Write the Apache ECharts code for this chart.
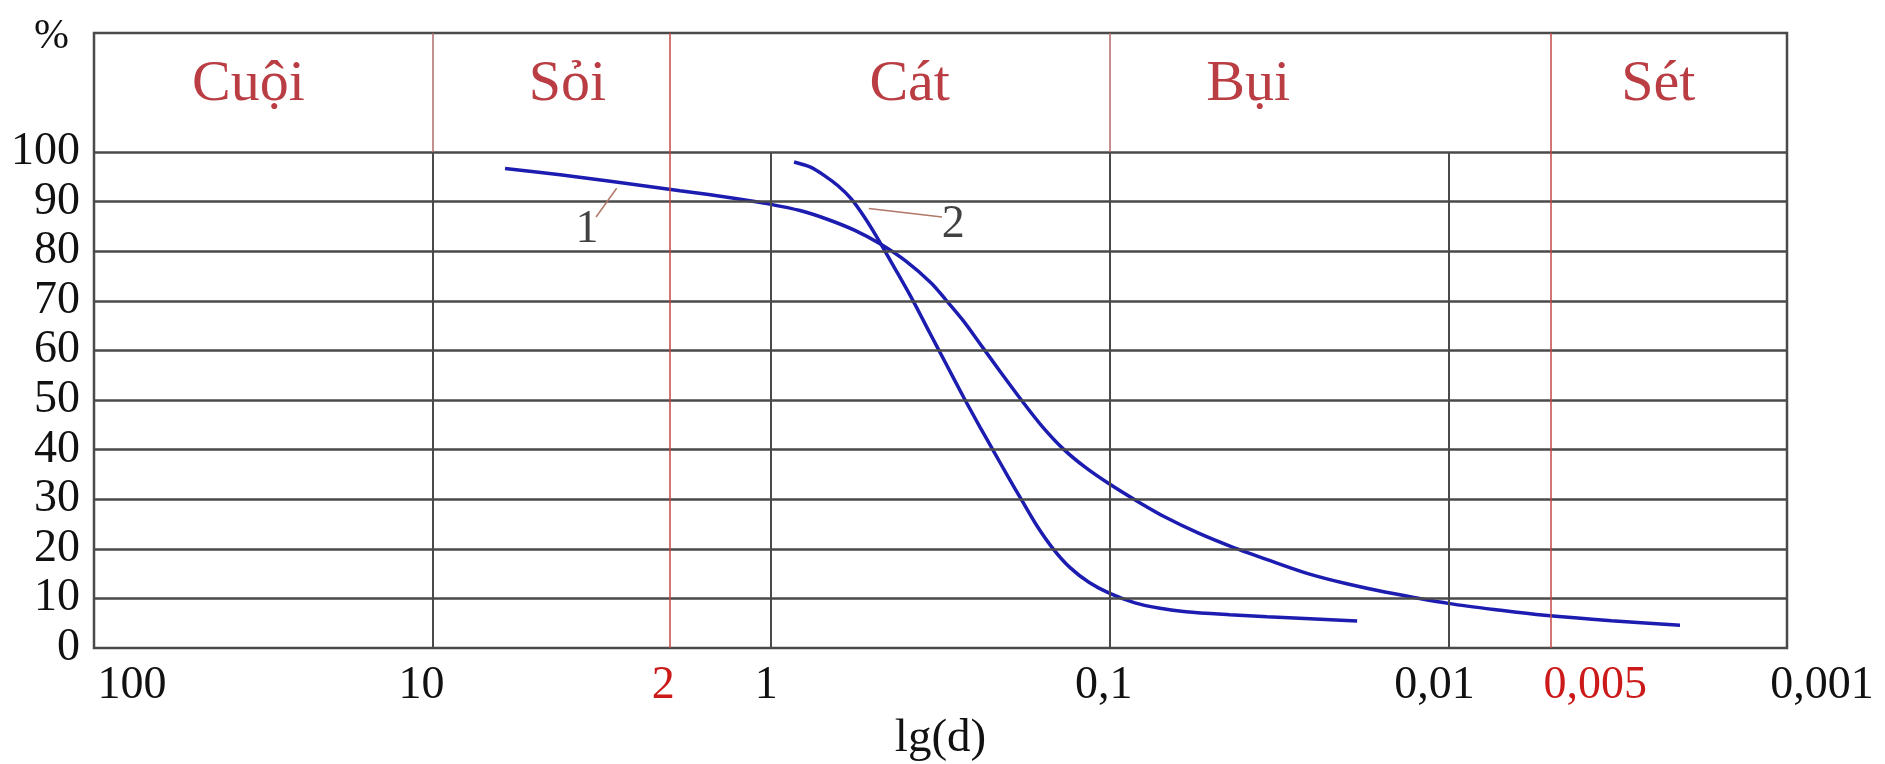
<!DOCTYPE html>
<html>
<head>
<meta charset="utf-8">
<script src="https://cdn.jsdelivr.net/npm/echarts@6/dist/echarts.min.js"></script>
<style>
  html, body { margin: 0; padding: 0; background: #fff; }
  #chart { width: 1885px; height: 764px; }
</style>
</head>
<body>
<div id="chart"></div>
<script>
// Grain-size distribution curves: cumulative percent finer vs particle diameter d (mm)
const sizeTicks = [100, 10, 2, 1, 0.1, 0.01, 0.005, 0.001];
const sizeTickLabels = ['100', '10', '2', '1', '0,1', '0,01', '0,005', '0,001'];
const gridSizes = [10, 1, 0.1, 0.01];
const fractionBounds = [100, 10, 2, 0.1, 0.005, 0.001];
const fractionNames = ['Cuội', 'Sỏi', 'Cát', 'Bụi', 'Sét'];
const pctTicks = [0, 10, 20, 30, 40, 50, 60, 70, 80, 90, 100];

// curve 1: well-graded soil
const curve1Size = [6.11, 4.2, 2.91, 1.86, 1.26, 1.01, 0.822, 0.68, 0.566, 0.477, 0.4, 0.337, 0.305, 0.271,
                    0.242, 0.21, 0.182, 0.158, 0.137, 0.118, 0.101, 0.083, 0.0687, 0.0549, 0.0436, 0.0336,
                    0.026, 0.0201, 0.0154, 0.0099, 0.0070, 0.0052, 0.0033, 0.00207];
const curve1Pct  = [96.7, 95.4, 94.0, 92.2, 90.6, 89.5, 88.2, 86.4, 84.2, 81.5, 78.0, 73.6, 70.2, 66.0,
                    61.4, 55.6, 49.9, 44.6, 40.1, 36.4, 33.2, 29.6, 26.4, 23.2, 20.4, 17.6,
                    15.0, 13.0, 11.3, 8.95, 7.6, 6.6, 5.5, 4.6];
// curve 2: uniform (poorly graded) soil
const curve2Size = [0.856, 0.768, 0.698, 0.635, 0.581, 0.532, 0.487, 0.431, 0.381, 0.340, 0.303, 0.270,
                    0.242, 0.220, 0.200, 0.182, 0.164, 0.147, 0.131, 0.115, 0.100, 0.0843, 0.0711, 0.0596,
                    0.0442, 0.0343, 0.0256, 0.0186];
const curve2Pct  = [98.0, 97.0, 95.3, 93.2, 90.6, 87.0, 82.8, 76.5, 70.0, 63.5, 57.0, 50.5,
                    44.6, 39.6, 34.6, 29.8, 24.6, 20.0, 16.2, 13.2, 11.0, 9.1, 8.0, 7.3,
                    6.7, 6.3, 5.9, 5.45];
const curveNames = ['1', '2'];

// ---- layout and styling ----
const FONT = '"Liberation Serif", "Times New Roman", serif';
const GRID_COLOR = '#4a4a4a';
const BOUND_RED = '#c24846';
const HEAD_SEP = '#b06a6a';
const TEXT_RED = '#a80c14';
const CURVE_BLUE = '#1c1cb0';
const PCT_TOP = 124;          // top of the fraction-name band
const HEADER_Y = 113.5;       // vertical anchor of the fraction names
const fractionLabelSize = [35, 4.0, 0.39, 0.039, 0.0024];
const labelNudge = [38, -11, -6, -5, -6, -14, 45, 35];
const callouts = [
  { text: '1', at: [3.5, 84.3], from: [2.86, 92.7], to: [3.29, 86.9] },
  { text: '2', at: [0.29, 85.3], from: [0.515, 88.6], to: [0.313, 86.9] }
];

const isRed = d => d === 2 || d === 0.005;

// frame lines: horizontal grid, decade verticals, fraction boundaries
const frameLines = [];
pctTicks.filter(v => v > 0).forEach(v => {
  frameLines.push([{ coord: [100, v], lineStyle: { color: GRID_COLOR, width: 2.5, type: 'solid' } }, { coord: [0.001, v] }]);
});
gridSizes.forEach(d => {
  frameLines.push([{ coord: [d, 0], lineStyle: { color: GRID_COLOR, width: 2, type: 'solid' } }, { coord: [d, 100] }]);
});
fractionBounds.slice(1, -1).forEach(d => {
  const full = !gridSizes.includes(d);
  frameLines.push([{ coord: [d, full ? 0 : 100], lineStyle: { color: full ? BOUND_RED : HEAD_SEP, width: 1.5, type: 'solid' } }, { coord: [d, PCT_TOP] }]);
});

const rich = {};
sizeTicks.forEach((t, i) => {
  const n = labelNudge[i];
  rich['t' + i] = {
    fontFamily: FONT, fontSize: 46,
    color: isRed(t) ? '#cc1a1a' : '#111',
    padding: n >= 0 ? [0, 0, 0, 2 * n] : [0, -2 * n, 0, 0]
  };
});

const chart = echarts.init(document.getElementById('chart'), null, { renderer: 'canvas' });
chart.setOption({
  animation: false,
  backgroundColor: '#fff',
  grid: {
    left: 94, right: 98, top: 33, bottom: 116,
    show: true, borderColor: GRID_COLOR, borderWidth: 2.5,
    outerBoundsMode: 'none'
  },
  xAxis: {
    type: 'log', logBase: 10, min: 0.001, max: 100, inverse: true,
    axisLine: { show: false }, axisTick: { show: false },
    splitLine: { show: false }, minorTick: { show: false }, minorSplitLine: { show: false },
    axisLabel: {
      customValues: sizeTicks,
      hideOverlap: false,
      margin: 15,
      fontFamily: FONT, fontSize: 46, color: '#111',
      formatter: v => {
        const i = sizeTicks.findIndex(t => Math.abs(Math.log10(t) - Math.log10(v)) < 1e-6);
        return i < 0 ? '' : '{t' + i + '|' + sizeTickLabels[i] + '}';
      },
      rich: rich
    },
    name: 'lg(d)', nameLocation: 'middle', nameGap: 67,
    nameTextStyle: { fontFamily: FONT, fontSize: 47, color: '#111' }
  },
  yAxis: {
    type: 'value', min: 0, max: PCT_TOP, interval: 10,
    axisLine: { show: false }, axisTick: { show: false }, splitLine: { show: false },
    axisLabel: {
      margin: 14, fontFamily: FONT, fontSize: 46, color: '#111',
      formatter: v => (pctTicks.includes(v) ? String(v) : '')
    },
    name: '%', nameLocation: 'end', nameGap: -4,
    nameTextStyle: {
      fontFamily: FONT, fontSize: 42, color: '#111',
      align: 'right', verticalAlign: 'middle', padding: [0, 25, 0, 0]
    }
  },
  series: [
    {
      type: 'scatter', data: [], silent: true, z: 1,
      markLine: {
        silent: true, symbol: ['none', 'none'], label: { show: false },
        lineStyle: { type: 'solid' }, data: frameLines
      }
    },
    {
      name: curveNames[0], type: 'line', z: 3,
      data: curve1Size.map((d, i) => [d, curve1Pct[i]]),
      showSymbol: false, smooth: 0.3,
      lineStyle: { color: CURVE_BLUE, width: 3.5 }
    },
    {
      name: curveNames[1], type: 'line', z: 3,
      data: curve2Size.map((d, i) => [d, curve2Pct[i]]),
      showSymbol: false, smooth: 0.3,
      lineStyle: { color: CURVE_BLUE, width: 3.5 }
    },
    {
      type: 'scatter', silent: true, z: 4, symbolSize: 0,
      data: callouts.map(c => [c.at[0], c.at[1], c.text]),
      label: {
        show: true, position: 'inside', formatter: p => p.value[2],
        fontFamily: FONT, fontSize: 46, color: '#111'
      },
      markLine: {
        silent: true, symbol: ['none', 'none'], label: { show: false },
        lineStyle: { color: '#b07868', width: 1.5, type: 'solid' },
        data: callouts.map(c => [{ coord: c.from }, { coord: c.to }])
      }
    },
    {
      type: 'scatter', silent: true, z: 5, symbolSize: 0,
      data: fractionNames.map((n, i) => [fractionLabelSize[i], HEADER_Y, n]),
      label: {
        show: true, position: 'inside', formatter: p => p.value[2],
        fontFamily: FONT, fontSize: 58, color: TEXT_RED
      }
    }
  ]
});
</script>
</body>
</html>
